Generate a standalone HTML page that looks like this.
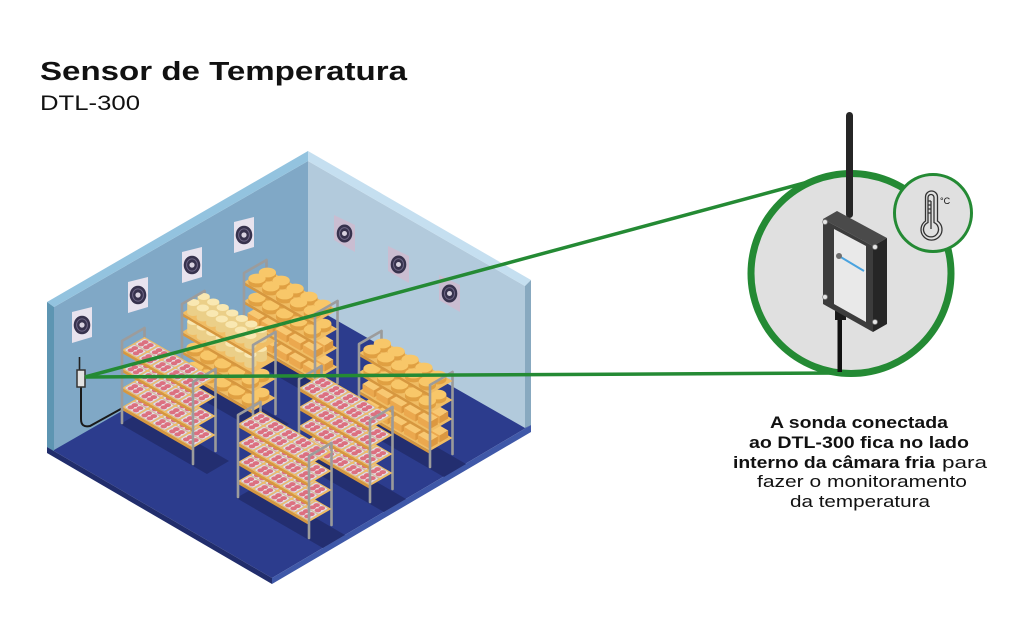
<!DOCTYPE html>
<html><head><meta charset="utf-8"><style>
html,body{margin:0;padding:0;background:#fff;width:1024px;height:627px;overflow:hidden;}
svg{display:block;}
text{font-family:"Liberation Sans",sans-serif;fill:#111;}
</style></head><body>
<svg xmlns="http://www.w3.org/2000/svg" width="1024" height="627" viewBox="0 0 1024 627">
<defs>
 <g id="tray">
  <rect x="0" y="0" width="14" height="11" rx="1.5" fill="#e7e3e7" stroke="#c3bcc3" stroke-width="0.6"/>
  <circle cx="4" cy="3.2" r="2.7" fill="#dc7080"/>
  <circle cx="10" cy="3.2" r="2.7" fill="#dc7080"/>
  <circle cx="4" cy="7.8" r="2.7" fill="#dc7080"/>
  <circle cx="10" cy="7.8" r="2.7" fill="#dc7080"/>
 </g>
 <g id="board">
  <polygon points="0,0 71,41 71,44 0,3" fill="#d6973f"/>
  <polygon points="0,0 71,41 93.5,28 22.5,-13" fill="#f0bd64"/>
 </g>
 <g id="wheel">
  <ellipse cx="0" cy="0" rx="8.6" ry="4.9" fill="#e0a042"/>
  <rect x="-8.6" y="-4" width="17.2" height="4" fill="#e0a042"/>
  <ellipse cx="0" cy="-4" rx="8.6" ry="4.9" fill="#f8c769"/>
 </g>
 <g id="cyl">
  <ellipse cx="0" cy="0" rx="6.1" ry="3.5" fill="#ebcf88"/>
  <rect x="-6.1" y="-10" width="12.2" height="10" fill="#ebcf88"/>
  <ellipse cx="0" cy="-10" rx="6.1" ry="3.5" fill="#f9e8b2"/>
 </g>
 <g id="blk">
  <polygon points="0,-7 11.3,-0.5 19.9,-5.5 8.7,-12" fill="#f8c872"/>
  <polygon points="0,0 11.3,6.5 11.3,-0.5 0,-7" fill="#eba84e"/>
  <polygon points="11.3,6.5 19.9,1.5 19.9,-5.5 11.3,-0.5" fill="#dc9840"/>
 </g>
 <g id="lvMeat">
  <use href="#board"/>
  <g transform="matrix(.866 .5 .866 -.5 0 0)">
   <use href="#tray" x="1.5" y="13.5"/><use href="#tray" x="17.5" y="13.5"/><use href="#tray" x="33.5" y="13.5"/><use href="#tray" x="49.5" y="13.5"/><use href="#tray" x="65.5" y="13.5"/>
   <use href="#tray" x="1.5" y="1.5"/><use href="#tray" x="17.5" y="1.5"/><use href="#tray" x="33.5" y="1.5"/><use href="#tray" x="49.5" y="1.5"/><use href="#tray" x="65.5" y="1.5"/>
  </g>
 </g>
 <g id="lvWheel">
  <use href="#board"/>
  <use href="#wheel" x="23.4" y="-5.5"/><use href="#wheel" x="13" y="0.5"/><use href="#wheel" x="37.2" y="2.5"/><use href="#wheel" x="26.8" y="8.5"/><use href="#wheel" x="51.1" y="10.5"/><use href="#wheel" x="40.7" y="16.5"/><use href="#wheel" x="64.9" y="18.5"/><use href="#wheel" x="54.6" y="24.5"/><use href="#wheel" x="78.8" y="26.5"/><use href="#wheel" x="68.4" y="32.5"/>
 </g>
 <g id="lvCyl">
  <use href="#board"/>
  <use href="#cyl" x="21.7" y="-6.5"/><use href="#cyl" x="31.2" y="-1"/><use href="#cyl" x="11.3" y="-0.5"/><use href="#cyl" x="40.7" y="4.5"/><use href="#cyl" x="20.8" y="5"/><use href="#cyl" x="50.2" y="10"/><use href="#cyl" x="30.3" y="10.5"/><use href="#cyl" x="59.8" y="15.5"/><use href="#cyl" x="39.8" y="16"/><use href="#cyl" x="69.3" y="21"/><use href="#cyl" x="49.4" y="21.5"/><use href="#cyl" x="78.8" y="26.5"/><use href="#cyl" x="58.9" y="27"/><use href="#cyl" x="68.4" y="32.5"/>
 </g>
 <g id="lvBlk">
  <use href="#board"/>
  <use href="#blk" x="13.9" y="-6"/><use href="#blk" x="3.5" y="0"/><use href="#blk" x="27.7" y="2"/><use href="#blk" x="17.3" y="8"/><use href="#blk" x="41.6" y="10"/><use href="#blk" x="31.2" y="16"/><use href="#blk" x="55.4" y="18"/><use href="#blk" x="45" y="24"/><use href="#blk" x="69.3" y="26"/><use href="#blk" x="58.9" y="32"/>
 </g>
 <g id="fBack" stroke="#9a9a9a" stroke-width="2.6" stroke-linecap="round" fill="none">
  <path d="M22.5,-13 V-95 M93.5,28 V-54"/>
 </g>
 <g id="fFront" stroke="#9c9c9c" stroke-width="2.6" stroke-linecap="round" stroke-linejoin="round" fill="none">
  <path d="M0,0 V-82 L22.5,-95 M71,41 V-41 L93.5,-54"/>
 </g>
 <g id="uMeat">
  <use href="#fBack"/>
  <use href="#lvMeat" y="-16"/><use href="#lvMeat" y="-35"/><use href="#lvMeat" y="-54"/><use href="#lvMeat" y="-73"/>
  <use href="#fFront"/>
 </g>
 <g id="uWB">
  <use href="#fBack"/>
  <use href="#lvBlk" y="-16"/><use href="#lvBlk" y="-35"/><use href="#lvWheel" y="-54"/><use href="#lvWheel" y="-73"/>
  <use href="#fFront"/>
 </g>
 <g id="uCW">
  <use href="#fBack"/>
  <use href="#lvWheel" y="-16"/><use href="#lvWheel" y="-35"/><use href="#lvCyl" y="-54"/><use href="#lvCyl" y="-73"/>
  <use href="#fFront"/>
 </g>
 <polygon id="shd" points="-1.7,1 84.9,51 107,38 20.8,-12" fill="#232e70"/>
 <g id="fanL">
  <polygon points="-10,-13 10,-18 10,12 -10,18" fill="#e8e3ee"/>
  <ellipse rx="8.3" ry="9.3" fill="#37324d"/>
  <ellipse rx="5.4" ry="6.1" fill="none" stroke="#6e6685" stroke-width="1"/>
  <circle r="2.6" fill="#d8d2df"/>
 </g>
 <g id="fanR">
  <polygon points="-10,-18 11,-8 11,19 -10,7" fill="#cabdd1"/>
  <ellipse cx="0.5" cy="0.5" rx="7.8" ry="9" fill="#37324d"/>
  <ellipse cx="0.5" cy="0.5" rx="5" ry="5.9" fill="none" stroke="#6e6685" stroke-width="1"/>
  <circle cx="0.5" cy="0.5" r="2.5" fill="#d8d2df"/>
 </g>
</defs>

<!-- Title -->
<text x="40" y="80" font-size="25.5" font-weight="700" textLength="367" lengthAdjust="spacingAndGlyphs">Sensor de Temperatura</text>
<text x="40" y="110" font-size="21" textLength="100" lengthAdjust="spacingAndGlyphs">DTL-300</text>

<!-- Floor -->
<polygon points="47,447 272,578 531,425 308,296" fill="#2c3c8d"/>
<polygon points="47,447 272,578 272,584 47,453" fill="#212d6c"/>
<polygon points="272,578 531,425 531,432 272,584" fill="#3f58a8"/>

<!-- Left wall -->
<polygon points="54,307 308,161 308,304 54,450" fill="#80a8c6"/>
<polygon points="47,302 308,151 308,161 54,307" fill="#93c3df"/>
<polygon points="47,302 54,307 54,451 47,447" fill="#5d95b2"/>
<!-- Right wall -->
<polygon points="308,161 525,286 525,428 308,304" fill="#b2cadc"/>
<polygon points="308,151 531,280 525,286 308,161" fill="#c5dff0"/>
<polygon points="525,286 531,280 531,425 525,428" fill="#88a9c0"/>

<!-- Fans -->
<use href="#fanL" x="82" y="325"/>
<use href="#fanL" x="138" y="295"/>
<use href="#fanL" x="192" y="265"/>
<use href="#fanL" x="244" y="235"/>
<use href="#fanR" x="344" y="233"/>
<use href="#fanR" x="398" y="264"/>
<use href="#fanR" x="449" y="293"/>

<!-- Sensor on wall -->
<path d="M81,387 V419 Q81,428 90,426 L137,400" stroke="#1a1a1a" stroke-width="2" fill="none"/>
<line x1="79.5" y1="357" x2="79.5" y2="371" stroke="#222" stroke-width="1.6"/>
<rect x="77" y="370" width="8" height="17" fill="#e2e2e2" stroke="#333" stroke-width="1.5"/>

<!-- Shadows -->
<use href="#shd" x="244" y="355"/>
<use href="#shd" x="182" y="386"/>
<use href="#shd" x="359" y="426"/>
<use href="#shd" x="122" y="423"/>
<use href="#shd" x="299" y="461"/>
<use href="#shd" x="238" y="497"/>

<!-- Shelves -->
<use href="#uWB" x="244" y="355"/>
<use href="#uCW" x="182" y="386"/>
<use href="#uWB" x="359" y="426"/>
<use href="#uMeat" x="122" y="423"/>
<use href="#uMeat" x="299" y="461"/>
<use href="#uMeat" x="238" y="497"/>

<!-- Green lines -->
<line x1="85" y1="377" x2="808" y2="182" stroke="#248a34" stroke-width="3.5"/>
<line x1="85" y1="377" x2="841" y2="373" stroke="#248a34" stroke-width="3.5"/>

<!-- Big circle -->
<circle cx="851" cy="273.5" r="100" fill="#e0e0e0" stroke="#248a34" stroke-width="7"/>

<!-- Device -->
<rect x="837.5" y="316" width="4.5" height="56" fill="#111"/>
<rect x="835" y="306" width="11" height="14" fill="#1a1a1a"/>
<rect x="846" y="112" width="7" height="106" rx="3.5" fill="#262626"/>
<polygon points="823,219 837,211 887,238 873,246" fill="#4a4a4a"/>
<polygon points="873,246 887,238 887,324 873,332" fill="#262626"/>
<polygon points="823,219 873,246 873,332 823,304" fill="#3c3c3c"/>
<polygon points="834,229 866,246 866,322 834,304" fill="#e9e9e9"/>
<line x1="839" y1="256" x2="864" y2="271" stroke="#4aa3df" stroke-width="2"/>
<circle cx="839" cy="256" r="3" fill="#6d6d6d"/>
<g fill="#e6e6e6" stroke="#888" stroke-width="0.8">
 <circle cx="825" cy="222" r="2.4"/>
 <circle cx="875" cy="247" r="2.4"/>
 <circle cx="825" cy="297" r="2.4"/>
 <circle cx="875" cy="322" r="2.4"/>
</g>

<!-- Small circle with thermometer -->
<circle cx="933" cy="213" r="38.5" fill="#e0e0e0" stroke="#248a34" stroke-width="3"/>
<g fill="none" stroke="#333" stroke-width="1.3">
 <path d="M925.5,221 V197 A6,6 0 0 1 937.5,197 V221 A10.5,10.5 0 1 1 925.5,221 Z"/>
 <path d="M928,222.5 V197.5 A3,3 0 0 1 934,197.5 V222.5 A7.5,7.5 0 1 1 928,222.5 Z"/>
 <path d="M931,201 V229"/>
 <path d="M928,201 H931 M928,205 H931 M928,209 H931 M928,213 H931"/>
</g>
<text x="940" y="204" font-size="9">°C</text>

<!-- Description -->
<text x="770" y="428" font-size="16.5" font-weight="700" textLength="178" lengthAdjust="spacingAndGlyphs">A sonda conectada</text>
<text x="749" y="448" font-size="16.5" font-weight="700" textLength="220" lengthAdjust="spacingAndGlyphs">ao DTL-300 fica no lado</text>
<text x="733" y="468" font-size="16.5" font-weight="700" textLength="202" lengthAdjust="spacingAndGlyphs">interno da câmara fria</text>
<text x="942" y="468" font-size="16.5" textLength="45" lengthAdjust="spacingAndGlyphs">para</text>
<text x="757" y="487" font-size="16.5" textLength="210" lengthAdjust="spacingAndGlyphs">fazer o monitoramento</text>
<text x="790" y="507" font-size="16.5" textLength="140" lengthAdjust="spacingAndGlyphs">da temperatura</text>
</svg>
</body></html>
